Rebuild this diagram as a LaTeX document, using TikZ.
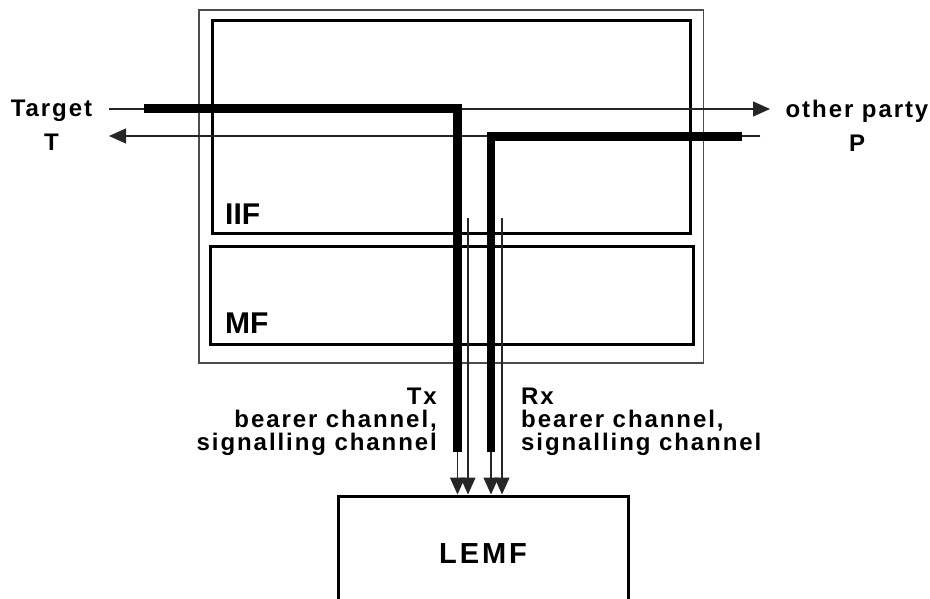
\documentclass[tikz,border=0pt]{standalone}
\usepackage{fontspec}
\setmainfont{Liberation Sans}
\newfontfamily\lsfont{Liberation Sans}[LetterSpace=8]
\newfontfamily\lsbigfont{Liberation Sans}[LetterSpace=10]
\usetikzlibrary{arrows.meta}
\tikzset{
  outerbox/.style={draw=black!70, line width=1.5pt, inner sep=0pt},
  funcbox/.style={draw=black, line width=3pt, inner sep=0pt},
  sig/.style={draw=black!85, line width=1.2pt},
  sigarrow/.style={sig, -{Triangle[length=17pt,width=15pt]}},
  chan/.style={draw=black, line width=8.5pt, line cap=butt, line join=miter},
  lab/.style={inner sep=0pt, font=\lsfont\bfseries\fontsize{24}{34}\selectfont},
  chanlab/.style={inner sep=0pt, font=\lsfont\bfseries\fontsize{24}{23}\selectfont},
  boxlab/.style={inner sep=0pt, font=\bfseries\fontsize{30}{30}\selectfont},
}
\begin{document}
\begin{tikzpicture}[x=1pt,y=-1pt]
\useasboundingbox (0,0) rectangle (930,599);
\clip (0,0) rectangle (930,599);
% boxes
\node[outerbox, minimum width=504.5pt, minimum height=353pt] (outer) at (451.25,186.5) {};
\node[funcbox, minimum width=478.5pt, minimum height=213.5pt] (iif) at (451.25,127.25) {};
\node[funcbox, minimum width=483pt, minimum height=97.5pt] (mf) at (451.5,295.25) {};
\node[boxlab, anchor=base west] (iiflab) at (225,225) {IIF};
\node[boxlab, anchor=base west] (mflab) at (225,333) {MF};
\node[funcbox, minimum width=290pt, minimum height=116pt,
      font=\lsbigfont\bfseries\fontsize{29}{29}\selectfont] (lemf) at (483,554) {LEMF};
% end labels
\node[lab, align=center, anchor=north] (target) at (51.5,100) {Target\\T};
\node[lab, align=center, anchor=north] (party) at (857,100) {other party\\P};
\node[chanlab, align=right, anchor=north east] (txlab) at (437,388) {Tx\\bearer channel,\\signalling channel};
\node[chanlab, align=left, anchor=north west] (rxlab) at (521,388) {Rx\\bearer channel,\\signalling channel};
% thin signal lines
\coordinate (a1s) at (109,109);
\coordinate (a1e) at (770,109);
\coordinate (a2s) at (760,136);
\coordinate (a2e) at (109,136);
\draw[sigarrow] (a1s) -- (a1e);
\draw[sigarrow] (a2s) -- (a2e);
% thick channels
\coordinate (t1s) at (144,108.5);
\coordinate (t1k) at (457.5,108.5);
\coordinate (t1e) at (457.5,452);
\coordinate (t2s) at (742,136.5);
\coordinate (t2k) at (491,136.5);
\coordinate (t2e) at (491,452);
\draw[chan] (t1s) -- (t1k) -- (t1e);
\draw[chan] (t2s) -- (t2k) -- (t2e);
% arrows to LEMF
\coordinate (v1) at (468,218);
\coordinate (v2) at (502,218);
\draw[sigarrow] (t1e) -- (t1e |- lemf.north);
\draw[sigarrow] (v1) -- (v1 |- lemf.north);
\draw[sigarrow] (t2e) -- (t2e |- lemf.north);
\draw[sigarrow] (v2) -- (v2 |- lemf.north);
\end{tikzpicture}
\end{document}
